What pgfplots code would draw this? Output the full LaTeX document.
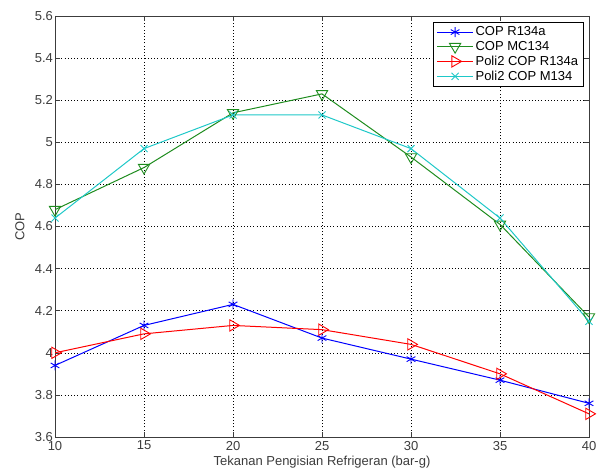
\documentclass[border=0pt]{standalone}
\usepackage{pgfplots}
\pgfplotsset{compat=1.18}
\usepackage{fontspec}
\setmainfont{Liberation Sans}
\definecolor{cgreen}{RGB}{30,140,30}
\definecolor{ccyan}{RGB}{30,200,200}
\definecolor{axgray}{RGB}{60,60,60}
\begin{document}
\begin{tikzpicture}[x=1pt,y=1pt]
\begin{axis}[
  at={(55pt,34pt)}, anchor=south west,
  scale only axis,
  width=534pt, height=421pt,
  xmin=10, xmax=40, ymin=3.6, ymax=5.6,
  xtick={10,15,...,40},
  ytick={3.6,3.8,...,5.6},
  yticklabels={3.6,3.8,4,4.2,4.4,4.6,4.8,5,5.2,5.4,5.6},
  /pgf/number format/assume math mode=true,
  tick label style={font=\fontsize{13}{15}\selectfont, text=axgray},
  yticklabel style={xshift=1.5pt},
  xticklabel style={yshift=-0.5pt},
  label style={font=\fontsize{13}{15}\selectfont, text=axgray},
  xlabel={Tekanan Pengisian Refrigeran (bar-g)},
  ylabel={COP},
  xlabel style={at={(axis description cs:0.5,0)}, anchor=center, yshift=-25pt},
  ylabel style={at={(axis description cs:0,0.5)}, anchor=center, yshift=35pt},
  grid=major,
  major grid style={black, dash pattern=on 1pt off 2.2pt, line width=0.5pt},
  tick align=inside,
  tick pos=both,
  major tick length=5pt,
  tick style={axgray, line width=0.6pt},
  axis line style={axgray, line width=0.8pt},
  legend style={at={(axis cs:40,5.6)}, anchor=north east, xshift=-5pt, yshift=-6pt,
    draw=black, line width=0.6pt, fill=white,
    font=\fontsize{13}{15}\selectfont, row sep=0pt, inner xsep=3.5pt, inner ysep=2.5pt},
  legend cell align=left,
  legend image code/.code={\draw[mark repeat=2, mark phase=2, #1]
    plot coordinates {(0pt,0pt) (18pt,0pt) (36pt,0pt)};},
  every axis plot/.append style={line width=1pt},
]
\addplot[blue, mark=asterisk, mark size=5pt, mark options={line width=0.9pt}] coordinates {
  (10,3.94) (15,4.13) (20,4.23) (25,4.07) (30,3.97) (35,3.87) (40,3.76)};
\addlegendentry{COP R134a}
\addplot[cgreen, mark=triangle, mark size=6.5pt, mark options={rotate=180, line width=0.9pt, fill=none}] coordinates {
  (10,4.68) (15,4.88) (20,5.14) (25,5.23) (30,4.93) (35,4.61) (40,4.17)};
\addlegendentry{COP MC134}
\addplot[red, mark=triangle, mark size=6.5pt, mark options={rotate=-90, line width=0.9pt, fill=none}] coordinates {
  (10,4.00) (15,4.09) (20,4.13) (25,4.11) (30,4.04) (35,3.90) (40,3.71)};
\addlegendentry{Poli2 COP R134a}
\addplot[ccyan, mark=x, mark size=5pt, mark options={line width=0.9pt}] coordinates {
  (10,4.64) (15,4.97) (20,5.13) (25,5.13) (30,4.97) (35,4.64) (40,4.15)};
\addlegendentry{Poli2 COP M134}
\end{axis}
\pgfresetboundingbox
\useasboundingbox (0,0) rectangle (601,471);
\end{tikzpicture}
\end{document}
